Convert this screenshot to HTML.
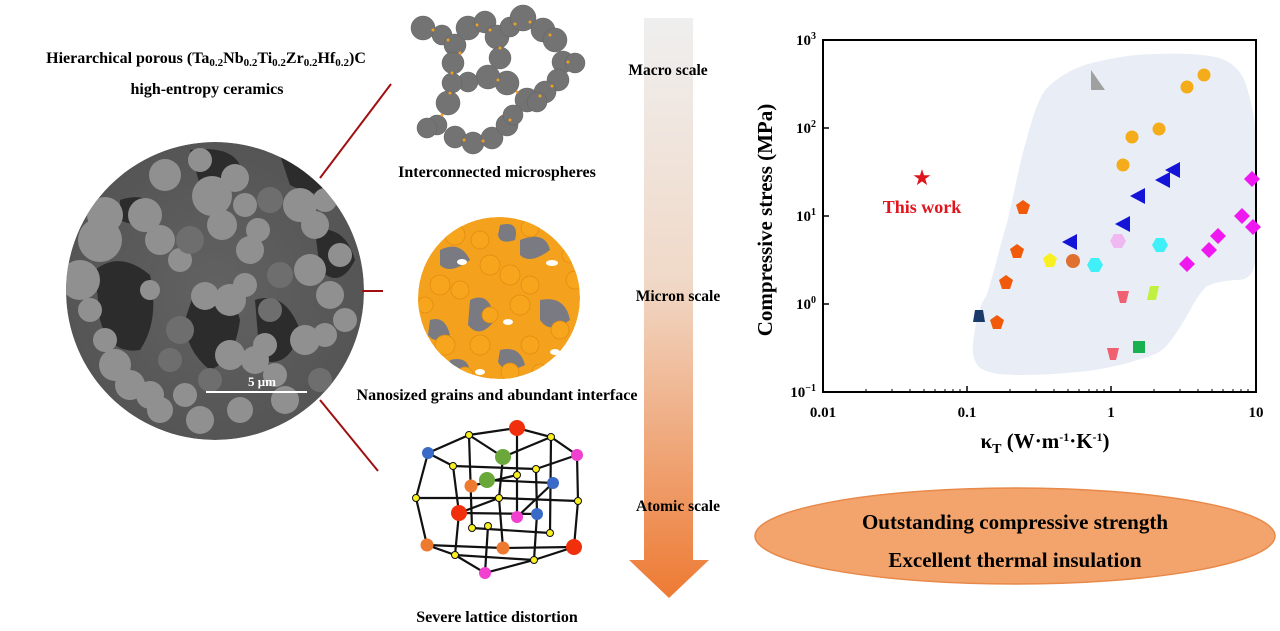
<!DOCTYPE html>
<html><head><meta charset="utf-8"><style>
html,body{margin:0;padding:0;background:#fff;}
svg{display:block;}
text{font-family:"Liberation Serif",serif;font-weight:bold;}
</style></head><body>
<svg width="1280" height="631" viewBox="0 0 1280 631" xmlns="http://www.w3.org/2000/svg">
<defs>
<linearGradient id="arr" x1="0" y1="0" x2="0" y2="1">
<stop offset="0" stop-color="#efefef"/><stop offset="0.45" stop-color="#f0d9c8"/><stop offset="1" stop-color="#ee7a33"/>
</linearGradient>
<radialGradient id="sem" cx="0.5" cy="0.5" r="0.5"><stop offset="0" stop-color="#626262"/><stop offset="1" stop-color="#555"/></radialGradient>
<clipPath id="semc"><circle cx="215" cy="291" r="149"/></clipPath>
<clipPath id="orc"><circle cx="499" cy="298" r="81"/></clipPath>
</defs>

<!-- Left title -->
<text x="206" y="63" font-size="16" text-anchor="middle">Hierarchical porous (Ta<tspan font-size="11" dy="3">0.2</tspan><tspan dy="-3">Nb</tspan><tspan font-size="11" dy="3">0.2</tspan><tspan dy="-3">Ti</tspan><tspan font-size="11" dy="3">0.2</tspan><tspan dy="-3">Zr</tspan><tspan font-size="11" dy="3">0.2</tspan><tspan dy="-3">Hf</tspan><tspan font-size="11" dy="3">0.2</tspan><tspan dy="-3">)C</tspan></text>
<text x="207" y="94" font-size="16" text-anchor="middle">high-entropy ceramics</text>

<!-- SEM -->
<g clip-path="url(#semc)">
<circle cx="215" cy="291" r="149" fill="url(#sem)"/>
<g fill="#2c2c2c">
<path d="M95 270 Q120 250 150 275 Q160 320 140 350 Q110 355 100 320Z"/>
<path d="M190 150 Q230 145 240 165 Q230 190 200 185Z"/>
<path d="M280 155 Q330 150 340 190 Q320 200 290 185Z"/>
<path d="M195 290 Q230 280 240 320 Q235 360 210 370 Q185 350 185 320Z"/>
<path d="M255 300 Q285 290 300 330 Q290 370 260 360Z"/>
<path d="M315 230 Q345 225 355 260 Q340 290 320 270Z"/>
<path d="M120 200 Q150 190 160 215 Q140 230 120 220Z"/>
</g>
<g fill="#909090">
<circle cx="100" cy="240" r="22"/><circle cx="80" cy="280" r="20"/><circle cx="105" cy="215" r="18"/>
<circle cx="145" cy="215" r="17"/><circle cx="160" cy="240" r="15"/><circle cx="165" cy="175" r="16"/>
<circle cx="212" cy="196" r="20"/><circle cx="222" cy="225" r="15"/><circle cx="235" cy="178" r="14"/>
<circle cx="250" cy="250" r="14"/><circle cx="258" cy="230" r="12"/>
<circle cx="300" cy="205" r="17"/><circle cx="315" cy="225" r="14"/><circle cx="325" cy="200" r="12"/>
<circle cx="310" cy="270" r="16"/><circle cx="330" cy="295" r="14"/><circle cx="340" cy="255" r="12"/>
<circle cx="205" cy="296" r="14"/><circle cx="230" cy="300" r="16"/><circle cx="245" cy="285" r="12"/>
<circle cx="230" cy="355" r="15"/><circle cx="255" cy="360" r="14"/><circle cx="265" cy="345" r="12"/>
<circle cx="305" cy="340" r="15"/><circle cx="325" cy="335" r="12"/>
<circle cx="115" cy="365" r="16"/><circle cx="130" cy="385" r="15"/><circle cx="150" cy="395" r="14"/><circle cx="105" cy="340" r="12"/>
<circle cx="160" cy="410" r="13"/><circle cx="200" cy="420" r="14"/><circle cx="240" cy="410" r="13"/><circle cx="285" cy="400" r="14"/>
<circle cx="180" cy="260" r="12"/><circle cx="150" cy="290" r="10"/>
<circle cx="245" cy="205" r="12"/><circle cx="200" cy="160" r="12"/><circle cx="345" cy="320" r="12"/><circle cx="90" cy="310" r="12"/>
<circle cx="275" cy="375" r="12"/><circle cx="185" cy="395" r="12"/>
</g>
<g fill="#6e6e6e">
<circle cx="190" cy="240" r="14"/><circle cx="270" cy="200" r="13"/><circle cx="280" cy="275" r="13"/>
<circle cx="180" cy="330" r="14"/><circle cx="170" cy="360" r="12"/><circle cx="270" cy="310" r="12"/>
<circle cx="210" cy="380" r="12"/><circle cx="320" cy="380" r="12"/>
</g>
</g>
<line x1="206" y1="392" x2="307" y2="392" stroke="#fff" stroke-width="2"/>
<text x="262" y="386" font-size="13" fill="#fff" text-anchor="middle">5 μm</text>

<!-- connecting lines -->
<g stroke="#a01010" stroke-width="2">
<line x1="320" y1="178" x2="391" y2="84"/>
<line x1="362" y1="291" x2="383" y2="291"/>
<line x1="320" y1="400" x2="378" y2="471"/>
</g>

<!-- microspheres -->
<g fill="#737373" stroke="#606060" stroke-width="0.5">
<circle cx="423" cy="28" r="12"/><circle cx="442" cy="35" r="10"/><circle cx="455" cy="45" r="11"/>
<circle cx="468" cy="28" r="12"/><circle cx="485" cy="22" r="11"/><circle cx="497" cy="37" r="12"/>
<circle cx="510" cy="27" r="10"/><circle cx="523" cy="18" r="13"/><circle cx="543" cy="30" r="12"/>
<circle cx="555" cy="40" r="12"/><circle cx="563" cy="62" r="11"/><circle cx="575" cy="63" r="10"/>
<circle cx="558" cy="80" r="11"/><circle cx="545" cy="92" r="11"/><circle cx="527" cy="100" r="12"/>
<circle cx="507" cy="83" r="12"/><circle cx="488" cy="77" r="12"/><circle cx="468" cy="82" r="10"/>
<circle cx="453" cy="63" r="11"/><circle cx="500" cy="58" r="11"/><circle cx="452" cy="83" r="10"/>
<circle cx="448" cy="103" r="12"/><circle cx="437" cy="125" r="10"/><circle cx="427" cy="128" r="10"/>
<circle cx="455" cy="137" r="11"/><circle cx="473" cy="143" r="11"/><circle cx="492" cy="138" r="11"/>
<circle cx="507" cy="125" r="11"/><circle cx="513" cy="115" r="10"/><circle cx="537" cy="102" r="10"/>
</g>
<g fill="#f0a020">
<circle cx="433" cy="30" r="1.5"/><circle cx="448" cy="40" r="1.5"/><circle cx="477" cy="25" r="1.5"/><circle cx="515" cy="24" r="1.5"/>
<circle cx="550" cy="35" r="1.5"/><circle cx="568" cy="62" r="1.5"/><circle cx="552" cy="86" r="1.5"/><circle cx="517" cy="92" r="1.5"/>
<circle cx="498" cy="80" r="1.5"/><circle cx="452" cy="73" r="1.5"/><circle cx="450" cy="93" r="1.5"/><circle cx="442" cy="115" r="1.5"/>
<circle cx="464" cy="140" r="1.5"/><circle cx="483" cy="141" r="1.5"/><circle cx="510" cy="120" r="1.5"/><circle cx="530" cy="22" r="1.5"/>
<circle cx="500" cy="48" r="1.5"/><circle cx="460" cy="53" r="1.5"/><circle cx="490" cy="30" r="1.5"/><circle cx="540" cy="96" r="1.5"/>
</g>
<text x="497" y="177" font-size="16" text-anchor="middle">Interconnected microspheres</text>

<!-- nanograins -->
<g clip-path="url(#orc)">
<circle cx="499" cy="298" r="81" fill="#f4a21e"/>
<g fill="#7a7a82">
<path d="M440 250 Q460 240 470 260 Q450 275 440 265Z"/><path d="M470 300 Q490 290 495 320 Q480 340 468 325Z"/>
<path d="M520 240 Q545 230 550 250 Q530 265 520 255Z"/><path d="M540 300 Q565 295 570 320 Q550 335 540 320Z"/>
<path d="M430 320 Q445 315 450 335 Q435 345 428 335Z"/><path d="M500 350 Q520 345 525 365 Q505 375 498 362Z"/>
<path d="M500 225 Q520 220 515 240 Q500 245 498 235Z"/><path d="M450 360 Q470 355 470 375 Q455 380 448 370Z"/>
</g>
<g fill="#fff"><ellipse cx="462" cy="262" rx="5" ry="3"/><ellipse cx="552" cy="263" rx="6" ry="3"/><ellipse cx="508" cy="322" rx="5" ry="3"/><ellipse cx="555" cy="352" rx="5" ry="3"/><ellipse cx="480" cy="372" rx="5" ry="3"/></g>
<g fill="#f7a51c" stroke="#e08a10" stroke-width="0.7">
<circle cx="455" cy="235" r="10"/><circle cx="480" cy="240" r="9"/><circle cx="530" cy="228" r="9"/><circle cx="490" cy="265" r="10"/>
<circle cx="510" cy="275" r="10"/><circle cx="530" cy="285" r="9"/><circle cx="440" cy="285" r="10"/><circle cx="460" cy="290" r="9"/>
<circle cx="575" cy="280" r="9"/><circle cx="520" cy="305" r="10"/><circle cx="490" cy="315" r="8"/><circle cx="445" cy="345" r="10"/>
<circle cx="480" cy="345" r="10"/><circle cx="530" cy="345" r="9"/><circle cx="560" cy="330" r="9"/><circle cx="510" cy="372" r="9"/>
<circle cx="465" cy="375" r="8"/><circle cx="540" cy="372" r="8"/><circle cx="570" cy="255" r="8"/><circle cx="425" cy="305" r="8"/>
</g>
</g>
<text x="497" y="400" font-size="16" text-anchor="middle">Nanosized grains and abundant interface</text>

<!-- lattice -->
<g stroke="#111" stroke-width="2.2" fill="none">
<polyline points="428,453 469,435 517,428 551,437 577,455 578,501 574,547 534,560 485,573 455,555 427,545 416,498 428,453"/>
<line x1="469" y1="435" x2="472" y2="528"/><line x1="517" y1="428" x2="517" y2="517"/><line x1="551" y1="437" x2="550" y2="533"/>
<line x1="428" y1="453" x2="453" y2="466"/><line x1="453" y1="466" x2="536" y2="469"/><line x1="536" y1="469" x2="577" y2="455"/>
<line x1="453" y1="466" x2="459" y2="513"/><line x1="459" y1="513" x2="455" y2="555"/><line x1="536" y1="469" x2="537" y2="514"/><line x1="537" y1="514" x2="534" y2="560"/>
<line x1="416" y1="498" x2="499" y2="498"/><line x1="499" y1="498" x2="578" y2="501"/><line x1="469" y1="435" x2="503" y2="457"/><line x1="503" y1="457" x2="551" y2="437"/>
<line x1="503" y1="457" x2="499" y2="498"/><line x1="499" y1="498" x2="503" y2="548"/><line x1="471" y1="486" x2="517" y2="475"/><line x1="487" y1="480" x2="553" y2="483"/>
<line x1="459" y1="513" x2="537" y2="514"/><line x1="427" y1="545" x2="503" y2="548"/><line x1="503" y1="548" x2="574" y2="547"/>
<line x1="472" y1="528" x2="550" y2="533"/><line x1="455" y1="555" x2="534" y2="560"/><line x1="488" y1="526" x2="485" y2="573"/>
<line x1="517" y1="517" x2="553" y2="483"/><line x1="459" y1="513" x2="499" y2="498"/>
</g>
<g>
<circle cx="517" cy="428" r="8" fill="#f0300c"/><circle cx="459" cy="513" r="8" fill="#f0300c"/><circle cx="574" cy="547" r="8" fill="#f0300c"/>
<circle cx="428" cy="453" r="6" fill="#3a6ac8"/><circle cx="553" cy="483" r="6" fill="#3a6ac8"/><circle cx="537" cy="514" r="6" fill="#3a6ac8"/>
<circle cx="503" cy="457" r="8" fill="#6aa83c"/><circle cx="487" cy="480" r="8" fill="#6aa83c"/>
<circle cx="577" cy="455" r="6" fill="#f040d0"/><circle cx="517" cy="517" r="6" fill="#f040d0"/><circle cx="485" cy="573" r="6" fill="#f040d0"/>
<circle cx="471" cy="486" r="6.5" fill="#ee7a30"/><circle cx="427" cy="545" r="6.5" fill="#ee7a30"/><circle cx="503" cy="548" r="6.5" fill="#ee7a30"/>
<g fill="#f8f020" stroke="#111" stroke-width="1">
<circle cx="469" cy="435" r="3.5"/><circle cx="551" cy="437" r="3.5"/><circle cx="453" cy="466" r="3.5"/><circle cx="536" cy="469" r="3.5"/>
<circle cx="517" cy="475" r="3.5"/><circle cx="416" cy="498" r="3.5"/><circle cx="499" cy="498" r="3.5"/><circle cx="578" cy="501" r="3.5"/>
<circle cx="472" cy="528" r="3.5"/><circle cx="488" cy="526" r="3.5"/><circle cx="550" cy="533" r="3.5"/><circle cx="455" cy="555" r="3.5"/><circle cx="534" cy="560" r="3.5"/>
</g>
</g>
<text x="497" y="622" font-size="16" text-anchor="middle">Severe lattice distortion</text>

<!-- arrow -->
<path d="M644 18 H693 V560 H709 L669 598 L629 560 H644 Z" fill="url(#arr)"/>
<text x="668" y="75" font-size="15.5" text-anchor="middle">Macro scale</text>
<text x="678" y="301" font-size="15.5" text-anchor="middle">Micron scale</text>
<text x="678" y="511" font-size="15.5" text-anchor="middle">Atomic scale</text>

<!-- chart -->
<path d="M973,344 C975,320 982,300 986,297 C995,270 1000,245 1007,223 C1015,190 1020,160 1027,138 C1033,115 1040,95 1047,88 C1060,75 1075,68 1088,64 C1110,58 1135,54 1155,54 C1180,53 1200,54 1216,57 C1235,62 1244,75 1247,88 C1254,110 1257,135 1257,155 C1257,200 1256,240 1255,263 C1252,278 1245,280 1236,280 C1222,281 1212,283 1206,287 C1195,298 1190,312 1182,324 C1172,340 1165,350 1155,354 C1135,362 1110,368 1088,371 C1060,374 1040,375 1020,375 C1000,375 988,373 980,368 C974,362 972,355 973,344Z" fill="#e9eef6"/>
<rect x="823" y="40" width="433" height="352" fill="none" stroke="#000" stroke-width="2"/>
<g stroke="#000" stroke-width="1.5">
<line x1="967" y1="392" x2="967" y2="386"/><line x1="1111" y1="392" x2="1111" y2="386"/>
<line x1="823" y1="128" x2="829" y2="128"/><line x1="823" y1="216" x2="829" y2="216"/><line x1="823" y1="304" x2="829" y2="304"/>
</g>
<g stroke="#000" stroke-width="1">
<line x1="866" y1="392" x2="866" y2="389"/><line x1="892" y1="392" x2="892" y2="389"/><line x1="910" y1="392" x2="910" y2="389"/><line x1="924" y1="392" x2="924" y2="389"/><line x1="935" y1="392" x2="935" y2="389"/><line x1="945" y1="392" x2="945" y2="389"/><line x1="953" y1="392" x2="953" y2="389"/><line x1="960" y1="392" x2="960" y2="389"/>
<line x1="1010" y1="392" x2="1010" y2="389"/><line x1="1036" y1="392" x2="1036" y2="389"/><line x1="1054" y1="392" x2="1054" y2="389"/><line x1="1068" y1="392" x2="1068" y2="389"/><line x1="1079" y1="392" x2="1079" y2="389"/><line x1="1089" y1="392" x2="1089" y2="389"/><line x1="1097" y1="392" x2="1097" y2="389"/><line x1="1104" y1="392" x2="1104" y2="389"/>
<line x1="1154" y1="392" x2="1154" y2="389"/><line x1="1180" y1="392" x2="1180" y2="389"/><line x1="1198" y1="392" x2="1198" y2="389"/><line x1="1212" y1="392" x2="1212" y2="389"/><line x1="1223" y1="392" x2="1223" y2="389"/><line x1="1233" y1="392" x2="1233" y2="389"/><line x1="1241" y1="392" x2="1241" y2="389"/><line x1="1248" y1="392" x2="1248" y2="389"/>
</g>
<g font-size="15" text-anchor="middle">
<text x="823" y="417">0.01</text><text x="967" y="417">0.1</text><text x="1111" y="417">1</text><text x="1256" y="417">10</text>
</g>
<g font-size="15" text-anchor="end">
<text x="816" y="45">10<tspan font-size="10" dy="-6">3</tspan></text>
<text x="816" y="133">10<tspan font-size="10" dy="-6">2</tspan></text>
<text x="816" y="221">10<tspan font-size="10" dy="-6">1</tspan></text>
<text x="816" y="309">10<tspan font-size="10" dy="-6">0</tspan></text>
<text x="816" y="397">10<tspan font-size="10" dy="-6">−1</tspan></text>
</g>
<text transform="translate(772,220) rotate(-90)" font-size="21" text-anchor="middle">Compressive stress (MPa)</text>
<text x="1045" y="448" font-size="21" text-anchor="middle">κ<tspan font-size="14" dy="5">T</tspan><tspan dy="-5"> (W·m</tspan><tspan font-size="12" dy="-7">-1</tspan><tspan dy="7">·K</tspan><tspan font-size="12" dy="-7">-1</tspan><tspan dy="7">)</tspan></text>

<!-- markers -->
<text x="922" y="185" font-size="22" fill="#e0141c" text-anchor="middle" style="font-weight:normal">★</text>
<text x="922" y="213" font-size="18" fill="#e0141c" text-anchor="middle">This work</text>
<polygon points="1091,70 1091,90 1105,90" fill="#a0a0a0"/>
<g fill="#f4ac1a">
<circle cx="1187" cy="87" r="6.5"/><circle cx="1204" cy="75" r="6.5"/><circle cx="1132" cy="137" r="6.5"/><circle cx="1159" cy="129" r="6.5"/><circle cx="1123" cy="165" r="6.5"/>
</g>
<g fill="#1414d8">
<polygon points="1180,162 1180,178 1165,170"/><polygon points="1170,172 1170,188 1155,180"/><polygon points="1145,188 1145,204 1130,196"/><polygon points="1130,216 1130,232 1115,224"/><polygon points="1077,234 1077,250 1062,242"/>
</g>
<g fill="#f018f0">
<polygon points="1252,171 1260,179 1252,187 1244,179"/><polygon points="1242,208 1250,216 1242,224 1234,216"/><polygon points="1253,219 1261,227 1253,235 1245,227"/>
<polygon points="1218,228 1226,236 1218,244 1210,236"/><polygon points="1209,242 1217,250 1209,258 1201,250"/><polygon points="1187,256 1195,264 1187,272 1179,264"/>
</g>
<g fill="#f05a0a">
<polygon points="1023,200 1030,205 1027,214 1019,214 1016,205"/><polygon points="1017,244 1024,249 1021,258 1013,258 1010,249"/>
<polygon points="1006,275 1013,280 1010,289 1002,289 999,280"/><polygon points="997,315 1004,320 1001,329 993,329 990,320"/>
</g>
<polygon points="1050,253 1057,258 1054,267 1046,267 1043,258" fill="#f8f020"/>
<circle cx="1073" cy="261" r="7" fill="#e07030"/>
<polygon points="1114,234 1122,234 1126,241 1122,248 1114,248 1110,241" fill="#f0b8f0"/>
<polygon points="1156,238 1164,238 1168,245 1164,252 1156,252 1152,245" fill="#40f0f8"/>
<polygon points="1091,258 1099,258 1103,265 1099,272 1091,272 1087,265" fill="#40f0f8"/>
<polygon points="1117,291 1129,291 1126,303 1120,303" fill="#f06070"/>
<polygon points="1107,348 1119,348 1116,360 1110,360" fill="#f06070"/>
<polygon points="1150,286 1159,286 1156,300 1147,300" fill="#c0f040"/>
<rect x="1133" y="341" width="12" height="12" fill="#18b050"/>
<polygon points="975,310 983,310 985,322 973,322" fill="#1a3a6a"/>

<!-- ellipse -->
<ellipse cx="1015" cy="536" rx="260" ry="48" fill="#f3a46c" stroke="#e8894a" stroke-width="1.5"/>
<text x="1015" y="529" font-size="21" text-anchor="middle">Outstanding compressive strength</text>
<text x="1015" y="567" font-size="21" text-anchor="middle">Excellent thermal insulation</text>
</svg>
</body></html>
